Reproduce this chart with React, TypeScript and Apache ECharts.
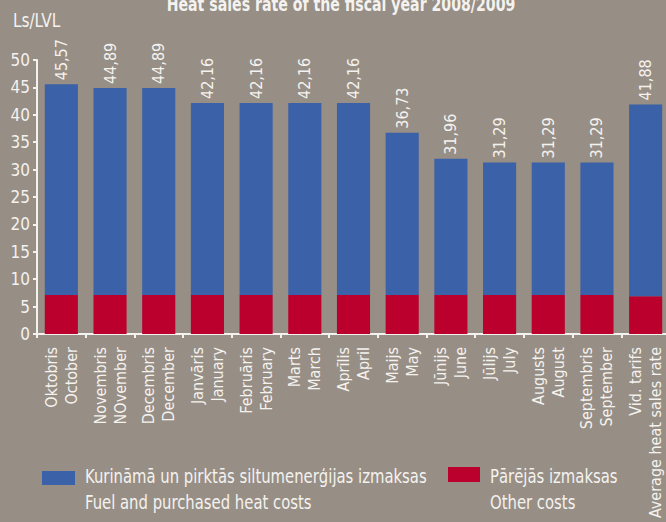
import React, { useEffect, useRef } from "react";
import * as echarts from "echarts";

const categories = [
  "Oktobris\nOctober",
  "Novembris\nNOvember",
  "Decembris\nDecember",
  "Janvāris\nJanuary",
  "Februāris\nFebruary",
  "Marts\nMarch",
  "Aprīlis\nApril",
  "Maijs\nMay",
  "Jūnijs\nJune",
  "Jūlijs\nJuly",
  "Augusts\nAugust",
  "Septembris\nSeptember",
  "Vid. tarifs\nAverage heat sales rate",
];
const totalLabels = ["45,57", "44,89", "44,89", "42,16", "42,16", "42,16", "42,16", "36,73", "31,96", "31,29", "31,29", "31,29", "41,88"];
const otherCosts = [7.1, 7.1, 7.1, 7.1, 7.1, 7.1, 7.1, 7.1, 7.1, 7.1, 7.1, 7.1, 6.9];
const fuelCosts = [38.47, 37.79, 37.79, 35.06, 35.06, 35.06, 35.06, 29.63, 24.86, 24.19, 24.19, 24.19, 34.98];
const yTicks = { min: 0, max: 50, interval: 5 };

const FONT = "'DejaVu Sans Condensed', 'Liberation Sans Narrow', sans-serif";
const BG = "#978e85";
const BLUE = "#3b61a8";
const RED = "#bb002e";
const WHITE = "#f4f2ef";
const SX = 0.825;

export default function App() {
  const ref = useRef<HTMLDivElement>(null);
  useEffect(() => {
    document.body.style.margin = "0";
    const chart = echarts.init(ref.current!, null, { renderer: "svg" });
    chart.setOption({
      animation: false,
      backgroundColor: BG,
      textStyle: { fontFamily: FONT },
      grid: { left: 37, top: 60, width: 633, height: 274, containLabel: false, outerBoundsMode: "none" },
      xAxis: {
        type: "category",
        data: categories,
        axisLine: { show: true, lineStyle: { color: WHITE, width: 2 } },
        axisTick: { show: true, alignWithLabel: false, length: 4, lineStyle: { color: WHITE, width: 2 } },
        axisLabel: {
          interval: 0,
          rotate: 90,
          margin: 13,
          color: WHITE,
          fontSize: 16,
          lineHeight: 20,
          fontFamily: FONT,
        },
      },
      yAxis: {
        type: "value",
        min: yTicks.min,
        max: yTicks.max,
        interval: yTicks.interval,
        splitLine: { show: false },
        axisLine: { show: true, lineStyle: { color: WHITE, width: 2 } },
        axisTick: { show: true, length: 4, lineStyle: { color: WHITE, width: 2 } },
        axisLabel: { color: WHITE, fontSize: 17, margin: 7, fontFamily: FONT },
      },
      series: [
        {
          name: "Pārējās izmaksas",
          type: "bar",
          stack: "total",
          data: otherCosts,
          barWidth: "68%",
          itemStyle: { color: RED },
        },
        {
          name: "Kurināmā un pirktās siltumenerģijas izmaksas",
          type: "bar",
          stack: "total",
          data: fuelCosts,
          barWidth: "68%",
          itemStyle: { color: BLUE },
          label: {
            show: true,
            position: "top",
            rotate: 90,
            align: "left",
            verticalAlign: "middle",
            distance: 4,
            color: WHITE,
            fontSize: 16,
            fontFamily: FONT,
            formatter: (p: any) => totalLabels[p.dataIndex],
          },
        },
      ],
      graphic: [
        {
          type: "text",
          x: 341,
          y: 4,
          scaleX: 0.786,
          style: {
            text: "Heat sales rate of the fiscal year 2008/2009",
            fill: WHITE,
            font: `bold 20px ${FONT}`,
            textAlign: "center",
            textVerticalAlign: "middle",
          },
        },
        {
          type: "text",
          x: 13,
          y: 20,
          scaleX: 0.85,
          style: { text: "Ls/LVL", fill: WHITE, font: `20px ${FONT}`, textAlign: "left", textVerticalAlign: "middle" },
        },
        { type: "rect", shape: { x: 42, y: 471, width: 33, height: 14 }, style: { fill: BLUE } },
        {
          type: "text",
          x: 85,
          y: 476,
          scaleX: SX,
          style: {
            text: "Kurināmā un pirktās siltumenerģijas izmaksas",
            fill: WHITE,
            font: `20px ${FONT}`,
            textAlign: "left",
            textVerticalAlign: "middle",
          },
        },
        {
          type: "text",
          x: 85,
          y: 502,
          scaleX: SX,
          style: { text: "Fuel and purchased heat costs", fill: WHITE, font: `20px ${FONT}`, textAlign: "left", textVerticalAlign: "middle" },
        },
        { type: "rect", shape: { x: 448, y: 467, width: 32, height: 15 }, style: { fill: RED } },
        {
          type: "text",
          x: 490,
          y: 476,
          scaleX: SX,
          style: { text: "Pārējās izmaksas", fill: WHITE, font: `20px ${FONT}`, textAlign: "left", textVerticalAlign: "middle" },
        },
        {
          type: "text",
          x: 490,
          y: 502,
          scaleX: SX,
          style: { text: "Other costs", fill: WHITE, font: `20px ${FONT}`, textAlign: "left", textVerticalAlign: "middle" },
        },
      ],
    });
    return () => chart.dispose();
  }, []);
  return <div ref={ref} style={{ width: 666, height: 522 }} />;
}
